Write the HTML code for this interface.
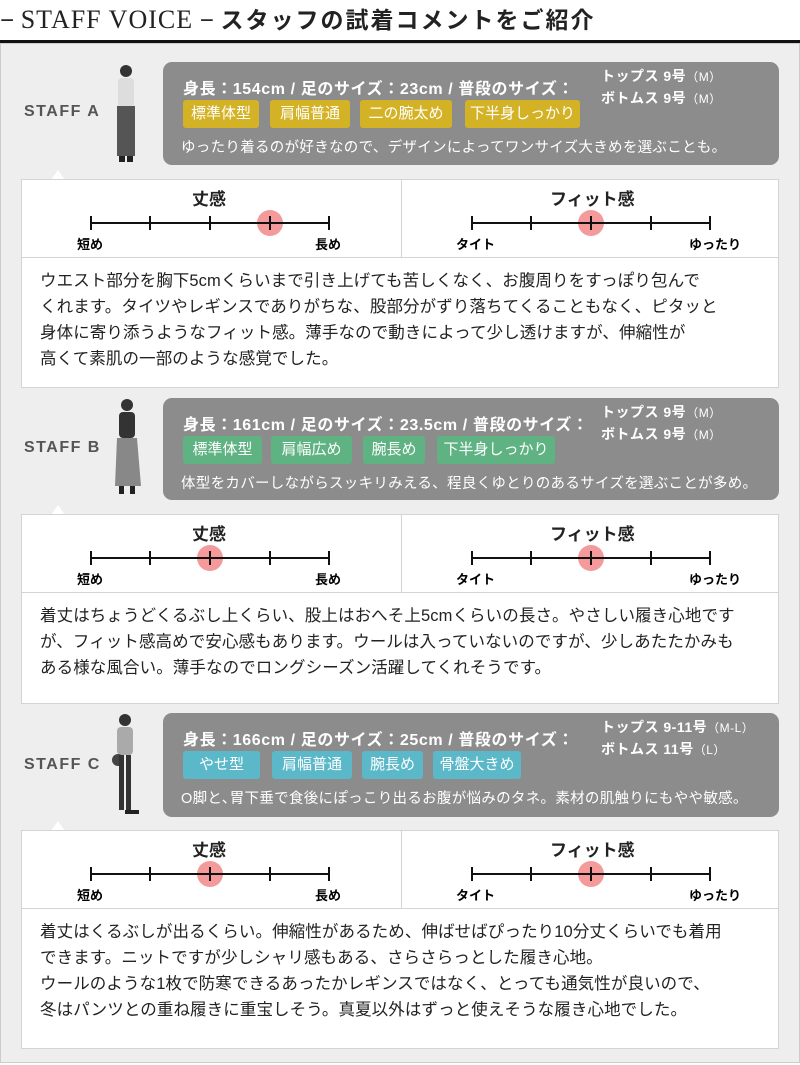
<!DOCTYPE html>
<html><head><meta charset="utf-8"><style>
*{margin:0;padding:0;box-sizing:border-box}
body{width:800px;height:1065px;background:#fff;position:relative;overflow:hidden;font-family:"Liberation Sans","Noto Sans CJK JP",sans-serif;color:#222}
.a{position:absolute}
.title{left:0;top:4px;font-size:24px;white-space:nowrap;line-height:32px}
.title .en{font-family:"Liberation Serif",serif;letter-spacing:1px;font-size:26px}
.title .jp{font-weight:bold;font-size:23px;letter-spacing:2px}
.hr{left:0;top:40px;width:800px;height:3px;background:#111}
.bg{left:0;top:43px;width:800px;height:1020px;background:#eeeeee;border:1px solid #ccc}
.info{left:163px;width:616px;background:#8c8c8c;border-radius:9px;color:#fff}
.stats{position:absolute;left:20px;top:13px;font-size:16px;font-weight:bold;white-space:nowrap;letter-spacing:0.6px}
.size{position:absolute;left:438px;top:4px;font-size:14px;font-weight:bold;line-height:21px;white-space:nowrap;letter-spacing:0.5px}
.size small{font-size:12px;font-weight:normal}
.tag{position:absolute;top:38px;height:28px;line-height:28px;border-radius:3px;font-size:15px;text-align:center;color:#fff}
.note{position:absolute;left:18px;top:74px;font-size:14.5px;white-space:nowrap;letter-spacing:0.3px}
.lbl{left:24px;font-size:16px;font-weight:bold;color:#555;letter-spacing:1.5px}
.panel{left:21px;width:758px;background:#fff;border:1px solid #d4d4d4}
.scale{position:absolute;left:0;top:0;width:756px;height:78px;border-bottom:1px solid #d4d4d4}
.vd{position:absolute;left:379px;top:0;width:1px;height:78px;background:#d4d4d4}
.h{position:absolute;font-size:17px;font-weight:bold;top:5px}
.body{position:absolute;left:18px;top:88px;font-size:16.5px;line-height:26px;white-space:nowrap;color:#222;letter-spacing:0.1px}
.tail{width:0;height:0;border-left:7px solid transparent;border-right:7px solid transparent;border-bottom:10px solid #fff}
</style></head><body>
<div class="a title">− <span class="en">STAFF VOICE</span> − <span class="jp">スタッフの試着コメントをご紹介</span></div>
<div class="a hr"></div>
<div class="a bg"></div>

<svg class="a" style="left:105px;top:62px" width="45" height="110"><circle cx="21" cy="9" r="6" fill="#333"/><rect x="13" y="16" width="16" height="30" rx="4" fill="#ddd"/><rect x="12" y="44" width="18" height="50" fill="#555"/><rect x="14" y="94" width="6" height="6" fill="#222"/><rect x="22" y="94" width="6" height="6" fill="#222"/></svg>
<svg class="a" style="left:105px;top:396px" width="45" height="105"><circle cx="22" cy="9" r="6" fill="#333"/><rect x="14" y="16" width="16" height="26" rx="4" fill="#333"/><path d="M12 42 L32 42 L36 90 L10 90 Z" fill="#888"/><rect x="14" y="90" width="5" height="8" fill="#222"/><rect x="25" y="90" width="5" height="8" fill="#222"/></svg>
<svg class="a" style="left:105px;top:710px" width="45" height="110"><circle cx="20" cy="10" r="6" fill="#333"/><rect x="12" y="17" width="16" height="28" rx="4" fill="#aaa"/><circle cx="13" cy="50" r="6" fill="#444"/><rect x="14" y="45" width="5" height="55" fill="#333"/><rect x="21" y="45" width="5" height="55" fill="#333"/><rect x="20" y="100" width="14" height="4" fill="#222"/></svg>

<!-- A -->
<div class="a lbl" style="top:103px">STAFF A</div>
<div class="a info" style="top:62px;height:103px">
<div class="stats">身長：154cm / 足のサイズ：23cm / 普段のサイズ：</div>
<div class="size">トップス 9号<small>（M）</small><br>ボトムス 9号<small>（M）</small></div>
<div class="tag" style="left:20px;width:76px;background:#d4b226">標準体型</div>
<div class="tag" style="left:107px;width:80px;background:#d4b226">肩幅普通</div>
<div class="tag" style="left:197px;width:92px;background:#d4b226">二の腕太め</div>
<div class="tag" style="left:302px;width:115px;background:#d4b226">下半身しっかり</div>
<div class="note">ゆったり着るのが好きなので、デザインによってワンサイズ大きめを選ぶことも。</div>
</div>
<div class="a tail" style="left:51px;top:170px"></div>
<div class="a panel" style="top:179px;height:209px">
<div class="scale"><div class="vd"></div>
<div class="h" style="left:170px">丈感</div><div class="h" style="left:528px">フィット感</div>
<svg style="position:absolute;left:0;top:0" width="756" height="78" font-size="13" font-weight="bold" font-family="Liberation Sans,Noto Sans CJK JP,sans-serif">
<circle cx="248" cy="43" r="13" fill="#f59a9a"/><circle cx="569" cy="43" r="13" fill="#f59a9a"/>
<g stroke="#111" stroke-width="2"><line x1="69" y1="43" x2="307" y2="43"/><line x1="69" y1="36" x2="69" y2="50"/><line x1="128" y1="36" x2="128" y2="50"/><line x1="188" y1="36" x2="188" y2="50"/><line x1="248" y1="36" x2="248" y2="50"/><line x1="307" y1="36" x2="307" y2="50"/>
<line x1="450" y1="43" x2="688" y2="43"/><line x1="450" y1="36" x2="450" y2="50"/><line x1="509" y1="36" x2="509" y2="50"/><line x1="569" y1="36" x2="569" y2="50"/><line x1="629" y1="36" x2="629" y2="50"/><line x1="688" y1="36" x2="688" y2="50"/></g>
<text x="55" y="69">短め</text><text x="293" y="69">長め</text><text x="434" y="69">タイト</text><text x="667" y="69">ゆったり</text></svg></div>
<div class="body">ウエスト部分を胸下5cmくらいまで引き上げても苦しくなく、お腹周りをすっぽり包んで<br>くれます。タイツやレギンスでありがちな、股部分がずり落ちてくることもなく、ピタッと<br>身体に寄り添うようなフィット感。薄手なので動きによって少し透けますが、伸縮性が<br>高くて素肌の一部のような感覚でした。</div>
</div>

<!-- B -->
<div class="a lbl" style="top:439px">STAFF B</div>
<div class="a info" style="top:398px;height:102px">
<div class="stats">身長：161cm / 足のサイズ：23.5cm / 普段のサイズ：</div>
<div class="size">トップス 9号<small>（M）</small><br>ボトムス 9号<small>（M）</small></div>
<div class="tag" style="left:20px;width:79px;background:#5fb282">標準体型</div>
<div class="tag" style="left:108px;width:81px;background:#5fb282">肩幅広め</div>
<div class="tag" style="left:200px;width:62px;background:#5fb282">腕長め</div>
<div class="tag" style="left:274px;width:118px;background:#5fb282">下半身しっかり</div>
<div class="note">体型をカバーしながらスッキリみえる、程良くゆとりのあるサイズを選ぶことが多め。</div>
</div>
<div class="a tail" style="left:51px;top:505px"></div>
<div class="a panel" style="top:514px;height:190px">
<div class="scale"><div class="vd"></div>
<div class="h" style="left:170px">丈感</div><div class="h" style="left:528px">フィット感</div>
<svg style="position:absolute;left:0;top:0" width="756" height="78" font-size="13" font-weight="bold" font-family="Liberation Sans,Noto Sans CJK JP,sans-serif">
<circle cx="188" cy="43" r="13" fill="#f59a9a"/><circle cx="569" cy="43" r="13" fill="#f59a9a"/>
<g stroke="#111" stroke-width="2"><line x1="69" y1="43" x2="307" y2="43"/><line x1="69" y1="36" x2="69" y2="50"/><line x1="128" y1="36" x2="128" y2="50"/><line x1="188" y1="36" x2="188" y2="50"/><line x1="248" y1="36" x2="248" y2="50"/><line x1="307" y1="36" x2="307" y2="50"/>
<line x1="450" y1="43" x2="688" y2="43"/><line x1="450" y1="36" x2="450" y2="50"/><line x1="509" y1="36" x2="509" y2="50"/><line x1="569" y1="36" x2="569" y2="50"/><line x1="629" y1="36" x2="629" y2="50"/><line x1="688" y1="36" x2="688" y2="50"/></g>
<text x="55" y="69">短め</text><text x="293" y="69">長め</text><text x="434" y="69">タイト</text><text x="667" y="69">ゆったり</text></svg></div>
<div class="body">着丈はちょうどくるぶし上くらい、股上はおへそ上5cmくらいの長さ。やさしい履き心地です<br>が、フィット感高めで安心感もあります。ウールは入っていないのですが、少しあたたかみも<br>ある様な風合い。薄手なのでロングシーズン活躍してくれそうです。</div>
</div>

<!-- C -->
<div class="a lbl" style="top:756px">STAFF C</div>
<div class="a info" style="top:713px;height:104px">
<div class="stats">身長：166cm / 足のサイズ：25cm / 普段のサイズ：</div>
<div class="size">トップス 9-11号<small>（M-L）</small><br>ボトムス 11号<small>（L）</small></div>
<div class="tag" style="left:20px;width:77px;background:#5bb8c8">やせ型</div>
<div class="tag" style="left:109px;width:80px;background:#5bb8c8">肩幅普通</div>
<div class="tag" style="left:199px;width:61px;background:#5bb8c8">腕長め</div>
<div class="tag" style="left:270px;width:88px;background:#5bb8c8">骨盤大きめ</div>
<div class="note">O脚と､胃下垂で食後にぽっこり出るお腹が悩みのタネ。素材の肌触りにもやや敏感。</div>
</div>
<div class="a tail" style="left:51px;top:821px"></div>
<div class="a panel" style="top:830px;height:219px">
<div class="scale"><div class="vd"></div>
<div class="h" style="left:170px">丈感</div><div class="h" style="left:528px">フィット感</div>
<svg style="position:absolute;left:0;top:0" width="756" height="78" font-size="13" font-weight="bold" font-family="Liberation Sans,Noto Sans CJK JP,sans-serif">
<circle cx="188" cy="43" r="13" fill="#f59a9a"/><circle cx="569" cy="43" r="13" fill="#f59a9a"/>
<g stroke="#111" stroke-width="2"><line x1="69" y1="43" x2="307" y2="43"/><line x1="69" y1="36" x2="69" y2="50"/><line x1="128" y1="36" x2="128" y2="50"/><line x1="188" y1="36" x2="188" y2="50"/><line x1="248" y1="36" x2="248" y2="50"/><line x1="307" y1="36" x2="307" y2="50"/>
<line x1="450" y1="43" x2="688" y2="43"/><line x1="450" y1="36" x2="450" y2="50"/><line x1="509" y1="36" x2="509" y2="50"/><line x1="569" y1="36" x2="569" y2="50"/><line x1="629" y1="36" x2="629" y2="50"/><line x1="688" y1="36" x2="688" y2="50"/></g>
<text x="55" y="69">短め</text><text x="293" y="69">長め</text><text x="434" y="69">タイト</text><text x="667" y="69">ゆったり</text></svg></div>
<div class="body">着丈はくるぶしが出るくらい。伸縮性があるため、伸ばせばぴったり10分丈くらいでも着用<br>できます。ニットですが少しシャリ感もある、さらさらっとした履き心地。<br>ウールのような1枚で防寒できるあったかレギンスではなく、とっても通気性が良いので、<br>冬はパンツとの重ね履きに重宝しそう。真夏以外はずっと使えそうな履き心地でした。</div>
</div>
</body></html>
